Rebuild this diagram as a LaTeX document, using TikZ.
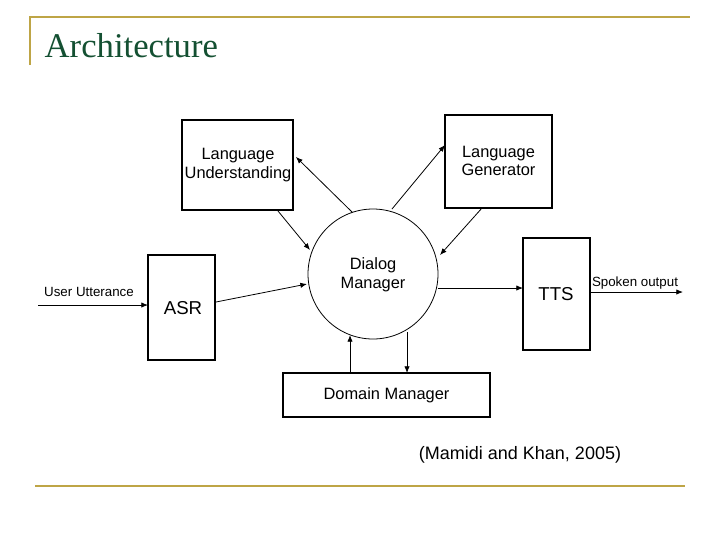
\documentclass[tikz,border=0pt]{standalone}
\usepackage{fontspec}
\setmainfont{Liberation Sans}
\newfontfamily\titlefont{Liberation Serif}
\usetikzlibrary{arrows.meta}
\definecolor{gold}{RGB}{190,165,70}
\definecolor{tgreen}{RGB}{20,80,50}
\tikzset{box/.style={draw,thick,inner sep=0pt},
 arr/.style={-{Latex[length=5pt,width=4pt]},semithick},
 lbl/.style={font=\fontsize{12.3}{14}\selectfont,align=center}}
\begin{document}
\begin{tikzpicture}[x=0.75pt,y=-0.75pt]
\useasboundingbox (0,0) rectangle (720,540);
\draw[gold,line width=1.5pt] (30,65) -- (30,17) -- (690,17);
\draw[gold,line width=1.5pt] (35,486) -- (685,486);
\node[anchor=west,text=tgreen,font=\titlefont\fontsize{26}{29}\selectfont] (title) at (40,46) {Architecture};
\node[box,minimum width=83.25pt,minimum height=67.5pt] (lu) at (237.5,165) {};
\node[lbl] (lut) at (238,165) {Language\\Understanding};
\node[box,minimum width=80.25pt,minimum height=69.75pt] (lg) at (498.5,161.5) {};
\node[lbl] (lgt) at (498.5,161) {Language\\Generator};
\node[box,minimum width=50.25pt,minimum height=78.75pt] (asr) at (181.5,307.5) {};
\node[lbl,font=\fontsize{14}{16}\selectfont] (asrt) at (183,308) {ASR};
\node[box,minimum width=50.25pt,minimum height=84pt] (tts) at (556.5,294) {};
\node[lbl,font=\fontsize{14}{16}\selectfont] (ttst) at (556,294) {TTS};
\node[box,minimum width=155.25pt,minimum height=33pt] (dm) at (386.5,395) {};
\node[lbl] (dmt) at (386.5,395) {Domain Manager};
\node[draw,semithick,circle,minimum size=97.5pt,inner sep=0pt] (c) at (373,274) {};
\node[lbl] (ct) at (373,275) {Dialog\\Manager};
\coordinate (uin) at (38,305);
\coordinate (sout) at (683,292);
\node[font=\fontsize{10}{12}\selectfont] (ut) at (89,292) {User Utterance};
\node[font=\fontsize{10}{12}\selectfont] (so) at (635,283) {Spoken output};
\draw[arr] (uin) -- (148,305);
\draw[arr] (590,292) -- (sout);
\draw[arr] (352,212) -- (296,157);
\draw[arr] (278,211) -- (310,250);
\draw[arr] (392,209) -- (445,145);
\draw[arr] (482,208) -- (440,255);
\draw[arr] (216,302) -- (307,284);
\draw[arr] (438,288) -- (523,288);
\draw[arr] (350,373) -- (350,335);
\draw[arr] (407,332) -- (407,373);
\node[font=\fontsize{13.5}{15}\selectfont] (cite) at (520,455) {(Mamidi and Khan, 2005)};
\end{tikzpicture}
\end{document}
